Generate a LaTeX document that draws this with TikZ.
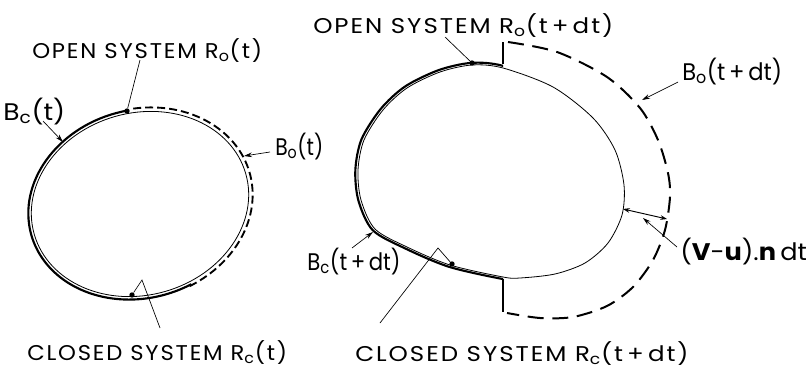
\documentclass[tikz,border=0pt]{standalone}
\usepackage{fontspec}
\setmainfont{Poppins}
\usetikzlibrary{arrows.meta,calc}
\newcommand{\fitw}[2]{\resizebox{#1pt}{\height}{#2}}
\begin{document}
\begin{tikzpicture}[x=0.75pt,y=-0.75pt,
  capl/.style={anchor=base west,inner sep=0pt,font=\fontsize{16}{18}\selectfont\addfontfeatures{LetterSpace=8}},
  bl/.style={anchor=base west,inner sep=0pt,font=\fontsize{18}{20}\selectfont},
  thinline/.style={line width=0.6pt},
  thickline/.style={line width=1.6pt},
  dashL/.style={line width=1.4pt,dash pattern=on 6pt off 3pt},
  dashR/.style={line width=1.5pt,dash pattern=on 12pt off 6.5pt},
  ptr/.style={line width=0.5pt,-{Stealth[length=6pt,width=3.5pt]}},
  dbl/.style={line width=0.7pt,{Stealth[length=5pt,width=3.5pt]}-{Stealth[length=5pt,width=3.5pt]}},
  lead/.style={line width=0.5pt},
  blob/.style={circle,fill,inner sep=0pt,minimum size=4pt},
]
\useasboundingbox (0,0) rectangle (808,371);

% ---------- left shape (time t) ----------
\begin{scope}[shift={(140,204)},rotate=16]
  \draw[thinline] (0,0) ellipse [x radius=110,y radius=91];
  \draw[thickline] (-83:113 and 94) arc[start angle=-83,end angle=-284,x radius=113,y radius=94];
  \draw[dashL] (-80:114 and 95) arc[start angle=-80,end angle=78,x radius=114,y radius=95];
\end{scope}

% ---------- right shape (time t+dt) ----------
\def\innerpts{(472,65) (503,68) (553,87) (593,118) (615,150) (624,185) (622,215) (608,243) (585,263) (555,274) (520,278) (503,277) (450,265) (407,247) (375,229) (361,200) (358,170) (364,140) (383,110) (407,88) (440,72)}
\draw[thinline] plot[smooth cycle] coordinates {\innerpts};
\begin{scope}
  \clip (0,0) rectangle (503,371);
  \draw[thickline,scale around={1.02:(490,172)}] plot[smooth cycle] coordinates {\innerpts};
\end{scope}
\coordinate (vt1) at (503,64);
\coordinate (vt2) at (503,42);
\coordinate (vb1) at (503,279);
\coordinate (vb2) at (503,312);
\draw[line width=1.5pt] (vt1) -- (vt2);
\draw[line width=1.5pt] (vb1) -- (vb2);
\draw[dashR] plot[smooth] coordinates {(508,42) (557,52) (607,77) (640,108) (658,140) (668,173) (670,197) (665,230) (653,260) (633,287) (607,306) (573,317) (540,318) (507,313)};

% ---------- labels ----------
\node[capl] (openL) at (32,58) {\fitw{172.5}{OPEN SYSTEM R\textsubscript{o}(t)}};
\node[bl] (BcL) at (3,120) {\fitw{46.5}{B\textsubscript{c}(t)}};
\node[bl] (BoL) at (275,155) {\fitw{36}{B\textsubscript{o}(t)}};
\node[capl] (closedL) at (27,360) {\fitw{195}{CLOSED SYSTEM R\textsubscript{c}(t)}};
\node[capl] (openR) at (313,33) {\fitw{225}{OPEN SYSTEM R\textsubscript{o}(t\,+\,dt)}};
\node[bl] (BoR) at (682,80) {\fitw{75}{B\textsubscript{o}(t\,+\,dt)}};
\node[bl] (BcR) at (307,270) {\fitw{70}{B\textsubscript{c}(t\,+\,dt)}};
\node[bl] (vun) at (680,260) {\fitw{95}{(\textbf{V}-\textbf{u}).\textbf{n}\,dt}};
\node[capl] (closedR) at (355,361) {\fitw{250}{CLOSED SYSTEM R\textsubscript{c}(t\,+\,dt)}};

% ---------- dots ----------
\node[blob] (d1) at (127,111) {};
\node[blob] (d2) at (132,295) {};
\node[blob] (d3) at (472,63) {};
\node[blob] (d4) at (452,264) {};

% ---------- pointers ----------
\coordinate (p1) at (140,60);
\draw[lead] (p1) -- (d1);
\coordinate (p2) at (43,121);
\coordinate (t2) at (63,142);
\draw[ptr] (p2) -- (t2);
\coordinate (p3) at (270,152);
\coordinate (t3) at (244,156);
\draw[ptr] (p3) -- (t3);
\coordinate (p4) at (160,328);
\coordinate (a4) at (142,280);
\draw[lead] (p4) -- (a4) -- (d2);
\coordinate (p5) at (445,37);
\draw[lead] (p5) -- (d3);
\coordinate (p6) at (678,82);
\coordinate (t6) at (642,100);
\draw[ptr] (p6) -- (t6);
\coordinate (p7) at (352,248);
\coordinate (t7) at (373,232);
\draw[ptr] (p7) -- (t7);
\coordinate (p8) at (380,323);
\coordinate (a8) at (438,248);
\draw[lead] (p8) -- (a8) -- (d4);
\coordinate (n1) at (623,209);
\coordinate (n2) at (667,219);
\draw[dbl] (n1) -- (n2);
\coordinate (p9) at (677,247);
\coordinate (t9) at (643,218);
\draw[ptr] (p9) -- (t9);
\end{tikzpicture}
\end{document}
